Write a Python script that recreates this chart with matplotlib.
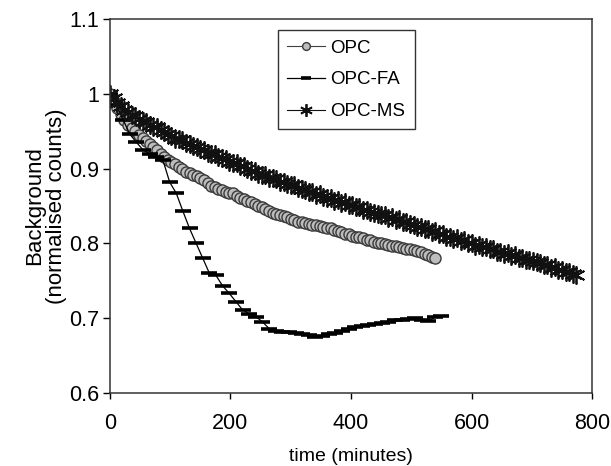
import matplotlib
matplotlib.use("Agg")
import matplotlib.pyplot as plt

plt.rcParams["font.family"] = ["Liberation Sans", "DejaVu Sans"]

# --- data ------------------------------------------------------------------
opc_t = [0, 6, 12, 18, 24, 30, 36, 42, 48, 54, 60, 66, 72, 78, 84, 90, 96, 102,
         108, 114, 120, 126, 132, 138, 144, 150, 156, 162, 168, 174, 180, 186,
         192, 198, 204, 210, 216, 222, 228, 234, 240, 246, 252, 258, 264, 270,
         276, 282, 288, 294, 300, 306, 312, 318, 324, 330, 336, 342, 348, 354,
         360, 366, 372, 378, 384, 390, 396, 402, 408, 414, 420, 426, 432, 438,
         444, 450, 456, 462, 468, 474, 480, 486, 492, 498, 504, 510, 516, 522,
         528, 534, 540]
opc_v = [1.000, 0.990, 0.981, 0.973, 0.965, 0.958, 0.954, 0.950, 0.945, 0.941,
         0.937, 0.933, 0.929, 0.925, 0.920, 0.915, 0.912, 0.909, 0.906, 0.902,
         0.899, 0.896, 0.894, 0.892, 0.890, 0.888, 0.885, 0.881, 0.877, 0.875,
         0.873, 0.871, 0.869, 0.868, 0.867, 0.864, 0.861, 0.859, 0.857, 0.855,
         0.852, 0.850, 0.848, 0.846, 0.843, 0.841, 0.839, 0.838, 0.836, 0.835,
         0.833, 0.831, 0.829, 0.828, 0.827, 0.826, 0.825, 0.824, 0.823, 0.822,
         0.821, 0.820, 0.818, 0.816, 0.815, 0.813, 0.812, 0.810, 0.809, 0.808,
         0.807, 0.805, 0.804, 0.802, 0.801, 0.800, 0.799, 0.798, 0.797, 0.796,
         0.795, 0.794, 0.793, 0.792, 0.791, 0.790, 0.789, 0.786, 0.784, 0.782,
         0.780]

fa_t = [0, 11, 22, 33, 44, 55, 66, 77, 88, 99, 110, 121, 132, 143, 154, 165,
        176, 187, 198, 209, 220, 231, 242, 253, 264, 275, 286, 297, 308, 319,
        330, 341, 352, 363, 374, 385, 396, 407, 418, 429, 440, 451, 462, 473,
        484, 495, 506, 517, 528, 539, 550]
fa_v = [1.000, 0.985, 0.965, 0.946, 0.935, 0.925, 0.920, 0.915, 0.911, 0.882,
        0.867, 0.843, 0.820, 0.800, 0.780, 0.760, 0.757, 0.743, 0.733, 0.722,
        0.711, 0.706, 0.702, 0.695, 0.686, 0.683, 0.682, 0.681, 0.680, 0.679,
        0.678, 0.675, 0.676, 0.679, 0.680, 0.683, 0.686, 0.688, 0.690, 0.691,
        0.692, 0.694, 0.695, 0.697, 0.698, 0.699, 0.700, 0.697, 0.696, 0.701,
        0.703]

ms_t = [0, 6, 12, 18, 24, 30, 36, 42, 48, 54, 60, 66, 72, 78, 84, 90, 96, 102,
        108, 114, 120, 126, 132, 138, 144, 150, 156, 162, 168, 174, 180, 186,
        192, 198, 204, 210, 216, 222, 228, 234, 240, 246, 252, 258, 264, 270,
        276, 282, 288, 294, 300, 306, 312, 318, 324, 330, 336, 342, 348, 354,
        360, 366, 372, 378, 384, 390, 396, 402, 408, 414, 420, 426, 432, 438,
        444, 450, 456, 462, 468, 474, 480, 486, 492, 498, 504, 510, 516, 522,
        528, 534, 540, 546, 552, 558, 564, 570, 576, 582, 588, 594, 600, 606,
        612, 618, 624, 630, 636, 642, 648, 654, 660, 666, 672, 678, 684, 690,
        696, 702, 708, 714, 720, 726, 732, 738, 744, 750, 756, 762, 768, 774]
ms_v = [1.000, 0.994, 0.988, 0.984, 0.979, 0.976, 0.972, 0.971, 0.967, 0.964,
        0.962, 0.958, 0.956, 0.955, 0.951, 0.949, 0.946, 0.944, 0.940, 0.939,
        0.938, 0.934, 0.933, 0.930, 0.929, 0.926, 0.925, 0.921, 0.920, 0.919,
        0.915, 0.914, 0.913, 0.909, 0.908, 0.907, 0.904, 0.903, 0.900, 0.897,
        0.897, 0.893, 0.892, 0.892, 0.888, 0.887, 0.886, 0.882, 0.882, 0.879,
        0.878, 0.878, 0.874, 0.873, 0.872, 0.869, 0.869, 0.865, 0.866, 0.862,
        0.861, 0.861, 0.857, 0.858, 0.854, 0.855, 0.851, 0.851, 0.848, 0.848,
        0.844, 0.845, 0.842, 0.841, 0.839, 0.838, 0.838, 0.834, 0.835, 0.831,
        0.832, 0.828, 0.829, 0.826, 0.825, 0.822, 0.822, 0.819, 0.819, 0.815,
        0.816, 0.812, 0.812, 0.809, 0.809, 0.806, 0.807, 0.803, 0.804, 0.800,
        0.801, 0.797, 0.798, 0.795, 0.795, 0.792, 0.792, 0.789, 0.789, 0.786,
        0.787, 0.783, 0.784, 0.780, 0.781, 0.778, 0.778, 0.776, 0.775, 0.774,
        0.771, 0.771, 0.767, 0.768, 0.764, 0.765, 0.761, 0.762, 0.759, 0.758]

x_ticks = [0, 200, 400, 600, 800]
y_ticks = [0.6, 0.7, 0.8, 0.9, 1.0, 1.1]
y_labels = ["0.6", "0.7", "0.8", "0.9", "1", "1.1"]

# --- figure ----------------------------------------------------------------
fig = plt.figure(figsize=(6.11, 4.66), dpi=100)
ax = fig.add_axes([0.18, 0.157, 0.789, 0.802])

ax.plot(opc_t, opc_v, color="#404040", lw=0.8, marker="o", ms=8,
        mfc="#bdbdbd", mec="#3a3a3a", mew=1.0, label="OPC")
ax.plot(fa_t, fa_v, color="black", lw=0.9, marker="_", ms=11, mew=2.6,
        label="OPC-FA")
ax.plot(ms_t, ms_v, color="#111111", lw=0.8, marker=(6, 2, 0), ms=13,
        mew=1.3, label="OPC-MS")

ax.set_xlim(0, 800)
ax.set_ylim(0.6, 1.1)
ax.set_xticks(x_ticks)
ax.set_yticks(y_ticks)
ax.set_yticklabels(y_labels)
ax.tick_params(axis="x", direction="out", length=4.5, width=1, labelsize=15.5, pad=10)
ax.tick_params(axis="y", direction="out", length=5, width=1, labelsize=15.5, pad=3)
for s in ax.spines.values():
    s.set_linewidth(1.1)
    s.set_color("#333333")

ax.set_xlabel("time (minutes)", fontsize=14, labelpad=10)
ax.set_ylabel("Background\n(normalised counts)", fontsize=16, labelpad=1,
              linespacing=1.05)

leg = ax.legend(loc="upper left", bbox_to_anchor=(0.3485, 0.9706),
                borderaxespad=0, fontsize=13.5, frameon=True, fancybox=False,
                handlelength=2.0, labelspacing=0.78, handletextpad=0.3,
                borderpad=0.5, markerscale=0.7)
leg.get_frame().set_edgecolor("black")
leg.get_frame().set_linewidth(1.0)

fig.savefig("out.png", dpi=100)
